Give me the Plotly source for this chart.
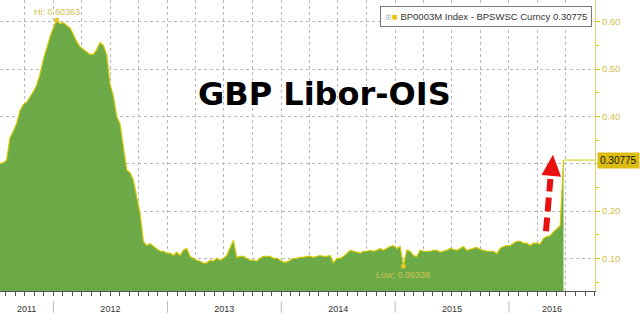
import pandas as pd
import plotly.graph_objects as go

# ---- data ----
series_name = "BP0003M Index - BPSWSC Curncy"
start_date = "2011-07-14"
end_date = "2016-06-24"
axis_end = "2016-10-03"

spread_values = [
    0.300, 0.302, 0.308, 0.355, 0.369, 0.385, 0.412, 0.425, 0.430, 0.440,
    0.452, 0.466, 0.489, 0.520, 0.547, 0.568, 0.587, 0.60363, 0.596, 0.598,
    0.592, 0.587, 0.573, 0.558, 0.547, 0.541, 0.535, 0.531, 0.531, 0.541,
    0.556, 0.550, 0.530, 0.468, 0.443, 0.400, 0.384, 0.340, 0.287, 0.281,
    0.265, 0.230, 0.195, 0.136, 0.127, 0.131, 0.125, 0.121, 0.115, 0.115,
    0.111, 0.111, 0.106, 0.113, 0.106, 0.117, 0.121, 0.104, 0.100, 0.096,
    0.094, 0.090, 0.090, 0.096, 0.094, 0.100, 0.096, 0.100, 0.106, 0.121,
    0.138, 0.102, 0.104, 0.104, 0.100, 0.096, 0.096, 0.094, 0.100, 0.104,
    0.104, 0.104, 0.100, 0.100, 0.096, 0.092, 0.092, 0.096, 0.100, 0.100,
    0.102, 0.102, 0.104, 0.104, 0.102, 0.104, 0.106, 0.104, 0.104, 0.106,
    0.090, 0.100, 0.100, 0.104, 0.111, 0.117, 0.115, 0.113, 0.111, 0.115,
    0.115, 0.117, 0.115, 0.117, 0.121, 0.117, 0.121, 0.125, 0.127, 0.121,
    0.125, 0.08338, 0.117, 0.115, 0.106, 0.104, 0.117, 0.115, 0.115, 0.115,
    0.117, 0.117, 0.113, 0.115, 0.117, 0.121, 0.119, 0.117, 0.121, 0.125,
    0.117, 0.119, 0.121, 0.123, 0.119, 0.117, 0.115, 0.115, 0.115, 0.110,
    0.121, 0.125, 0.127, 0.127, 0.132, 0.136, 0.136, 0.132, 0.132, 0.127,
    0.132, 0.132, 0.130, 0.142, 0.146, 0.148, 0.156, 0.163, 0.169, 0.30775,
]
hi_value = 0.60363
low_value = 0.08338
last_value = 0.30775
year_labels = ["2011", "2012", "2013", "2014", "2015", "2016"]
y_ticks = [0.10, 0.20, 0.30, 0.40, 0.50, 0.60]
y_range = [0.031, 0.646]

dates = pd.date_range(start_date, end_date, periods=len(spread_values))
hi_date = dates[spread_values.index(hi_value)]
low_date = dates[spread_values.index(low_value)]

# ---- styles ----
GREEN = "#6caa48"
YELLOW = "#d4c800"
GOLD_TXT = "#d0c050"
GRID = "#b8b8b8"
FONT = "Liberation Sans"

fig = go.Figure()
fig.add_trace(go.Scatter(
    x=dates, y=spread_values, mode="lines", fill="tozeroy",
    fillcolor=GREEN, line=dict(color=YELLOW, width=1.2),
    showlegend=False, hoverinfo="skip"))
fig.add_trace(go.Scatter(
    x=[hi_date, low_date], y=[hi_value, low_value], mode="markers",
    marker=dict(color="#e0c828", size=5), showlegend=False, hoverinfo="skip"))
# helper trace for the year-label axis
x0 = pd.Timestamp(start_date)
x1 = pd.Timestamp(axis_end)
fig.add_trace(go.Scatter(x=[x0], y=[None], xaxis="x2", showlegend=False,
                         hoverinfo="skip"))

# year label positions: centre of visible part of each year
tickvals = []
for yl in year_labels:
    a = max(pd.Timestamp(f"{yl}-01-01"), x0)
    b = min(pd.Timestamp(f"{int(yl)+1}-01-01"), x1)
    tickvals.append(a + (b - a) / 2)

# the last-value tag covers the 0.30 label, as in the reference
y_ticktext = ["" if abs(v - 0.30) < 1e-9 else f"{v:.2f}" for v in y_ticks]

fig.update_layout(
    width=640, height=314,
    margin=dict(l=0, r=45, t=0, b=21),
    paper_bgcolor="white", plot_bgcolor="white",
    font=dict(family=FONT),
    xaxis=dict(
        type="date", range=[x0, x1], tick0="2011-01-01", dtick="M3",
        showgrid=True, gridcolor=GRID, griddash="dot", gridwidth=1,
        showticklabels=False, ticks="outside", ticklen=4, tickcolor="#555",
        showline=True, linecolor="#555", linewidth=1, zeroline=False,
        minor=dict(dtick="M1", ticks="outside", ticklen=4, tickcolor="#555",
                   showgrid=False),
    ),
    xaxis2=dict(
        type="date", overlaying="x", anchor="y", side="bottom",
        range=[x0, x1], tickmode="array", tickvals=tickvals,
        ticktext=year_labels, showgrid=False, showline=False, zeroline=False,
        ticks="outside", ticklen=9, tickcolor="rgba(0,0,0,0)",
        tickfont=dict(size=9, color="#333", family=FONT),
    ),
    yaxis=dict(
        side="right", range=y_range, tickmode="array", tickvals=y_ticks,
        ticktext=y_ticktext, showgrid=True, gridcolor=GRID, griddash="dot",
        ticks="outside", ticklen=4, tickcolor=YELLOW,
        showline=True, linecolor="#d8d070", linewidth=1, zeroline=False,
        tickfont=dict(size=9.5, color=GOLD_TXT, family=FONT),
        minor=dict(tickvals=[0.05, 0.15, 0.25, 0.35, 0.45, 0.55],
                   ticks="outside", ticklen=3, tickcolor=YELLOW, showgrid=False),
    ),
)

shapes = []
# year separators under the axis
for yl in year_labels[1:]:
    shapes.append(dict(type="line", xref="x", yref="paper",
                       x0=f"{yl}-01-01", x1=f"{yl}-01-01",
                       y0=-0.034, y1=-0.075,
                       line=dict(color="#bbbbbb", width=1)))
# last value line
shapes.append(dict(type="line", xref="x", yref="y", x0=dates[-1], x1=x1,
                   y0=last_value, y1=last_value,
                   line=dict(color=YELLOW, width=1)))
# red dashed arrow
shapes.append(dict(type="line", xref="paper", yref="paper",
                   x0=0.9176, y0=0.205, x1=0.9250, y1=0.385,
                   line=dict(color="#e8100e", width=6, dash="14px,6px")))
shapes.append(dict(type="path", xref="paper", yref="paper",
                   path="M 0.9294 0.468 L 0.9100 0.399 L 0.9430 0.393 Z",
                   fillcolor="#e8100e", line=dict(width=0)))
fig.update_layout(shapes=shapes)

annotations = [
    dict(text="<b>GBP Libor-OIS</b>", xref="paper", yref="paper",
         x=0.546, y=0.678, xanchor="center", yanchor="middle",
         showarrow=False,
         font=dict(family="DejaVu Sans", size=32, color="black")),
    dict(text=f"Hi: {hi_value:.5f}", x=hi_date, y=hi_value, xref="x", yref="y",
         showarrow=False, yanchor="bottom", yshift=1,
         font=dict(size=9, color=GOLD_TXT)),
    dict(text=f"Low: {low_value:.5f}", x=low_date, y=low_value, xref="x",
         yref="y", showarrow=False, yanchor="top", yshift=-2,
         font=dict(size=9, color=GOLD_TXT)),
    dict(text=f"{last_value:.5f}", xref="paper", yref="y", x=1.0,
         y=last_value, xanchor="left", yanchor="middle", showarrow=False,
         xshift=2, bgcolor="#dcbc10", borderpad=2,
         font=dict(size=10, color="#111")),
    dict(text=("<span style='color:#bbbbbb;font-size:8px'>⊞</span>"
               "<span style='color:#e8c400'>■</span> "
               f"{series_name} {last_value:.5f}"),
         xref="paper", yref="paper", x=0.995, y=0.942,
         xanchor="right", yanchor="middle", showarrow=False,
         bgcolor="white", bordercolor="#777", borderwidth=1, borderpad=4,
         font=dict(size=9.5, color="#333", family=FONT)),
]
fig.update_layout(annotations=annotations)

fig.write_html("out.html")
